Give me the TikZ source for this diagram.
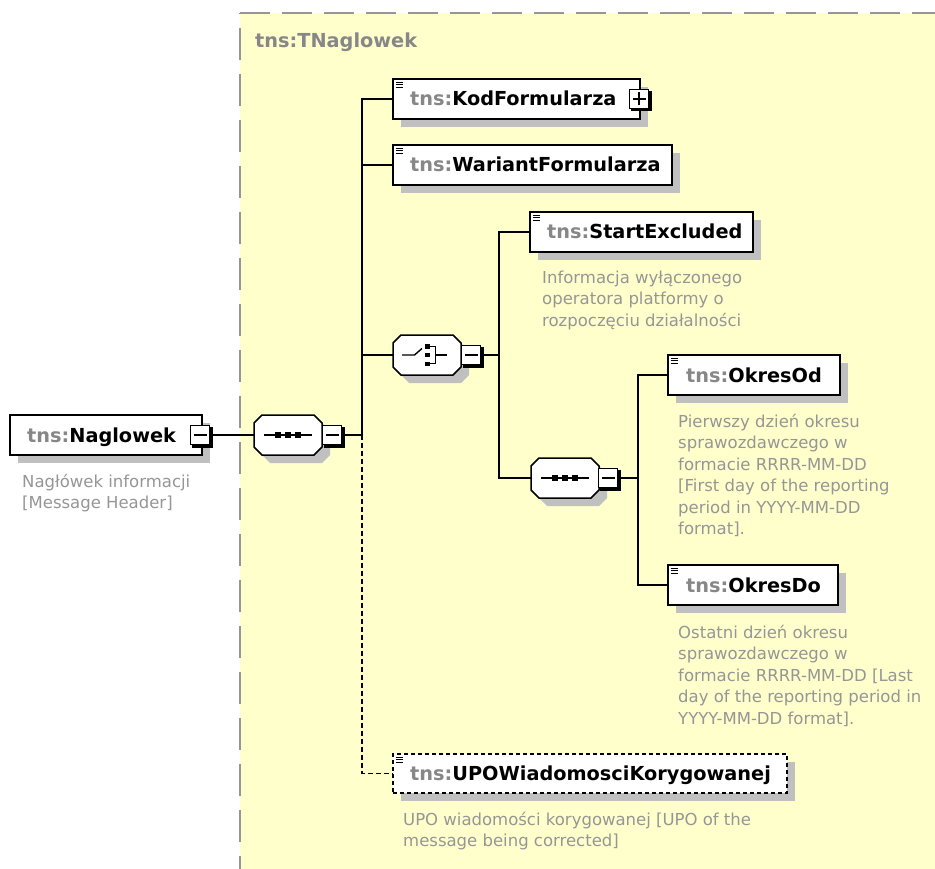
\documentclass[tikz,border=0pt]{standalone}
\usepackage{fontspec}
\setmainfont{DejaVu Sans}
\usetikzlibrary{calc}
\definecolor{frameyellow}{RGB}{255,255,204}
\definecolor{framegray}{RGB}{150,150,150}
\definecolor{shadowgray}{RGB}{192,192,192}
\definecolor{prefixgray}{RGB}{135,135,135}
\definecolor{descgray}{RGB}{150,150,150}
\tikzset{
  elembox/.style={rectangle, draw=black, line width=1.6pt, fill=white, inner sep=0pt, outer sep=0pt,
    anchor=north west, minimum height=40pt},
  elemshadow/.style={fill=shadowgray, shift={(8,8)}},
  optdash/.style={dash pattern=on 4pt off 3pt},
  compositor/.style={rectangle, draw=none, inner sep=0pt, outer sep=0pt,
    minimum width=68pt, minimum height=40pt},
  toggle/.style={rectangle, draw=black, line width=1.2pt, fill=white, inner sep=0pt, outer sep=0pt,
    minimum width=19pt, minimum height=19pt},
  nametext/.style={anchor=base west, inner sep=0pt, font=\fontsize{19.3}{23}\selectfont\bfseries},
  desctext/.style={anchor=north west, inner sep=0pt, align=left, text=descgray,
    font=\fontsize{16.5}{21.5}\selectfont},
  conn/.style={draw=black, line width=1.3pt},
  optconn/.style={conn, dash pattern=on 5pt off 3pt},
  elemicon/.pic={
    \draw[line width=0.9pt] (2.5,3) -- (9.5,3) (2.5,5.5) -- (9.5,5.5) (2.5,8) -- (9.5,8);
  },
  octagonpic/.pic={
    \fill[shadowgray, shift={(8,8)}] (-26,-20) -- (26,-20) -- (34,-12) -- (34,12) -- (26,20)
      -- (-26,20) -- (-34,12) -- (-34,-12) -- cycle;
    \filldraw[fill=white, draw=black, line width=1.5pt] (-26,-20) -- (26,-20) -- (34,-12) -- (34,12)
      -- (26,20) -- (-26,20) -- (-34,12) -- (-34,-12) -- cycle;
  },
  seqicon/.pic={
    \draw[line width=1.4pt] (-24,0) -- (24,0);
    \fill (-13,-3) rectangle (-7,3);
    \fill (-3,-3) rectangle (3,3);
    \fill (7,-3) rectangle (13,3);
  },
  choiceicon/.pic={
    \draw[line width=1.4pt] (-25,0) -- (-12.5,0) -- (-5,-6.5);
    \fill (-2,-11) rectangle (2.5,-6.5);
    \fill (-2,-2.25) rectangle (2.5,2.25);
    \fill (-2,6.5) rectangle (2.5,11);
    \draw[line width=1.4pt] (2.5,-8.75) -- (8.5,-8.75) -- (8.5,8.75) -- (2.5,8.75);
    \draw[line width=1.4pt] (8.5,0) -- (20,0);
  },
  togglepic/.pic={
    \fill[black] (-8,-8) rectangle (12.5,12.5);
  },
  minussign/.pic={\draw[line width=1.6pt] (-6.5,0) -- (6.5,0);},
  plussign/.pic={\draw[line width=1.6pt] (-6.5,0) -- (6.5,0) (0,-6.5) -- (0,6.5);},
}
\newcommand{\elemshadowof}[1]{\fill[elemshadow] (#1.north west) rectangle (#1.south east);}
\begin{document}
\begin{tikzpicture}[x=1pt,y=-1pt]
\useasboundingbox (0,0) rectangle (935,869);
\fill[white] (0,0) rectangle (935,869);
% complex type frame
\fill[frameyellow] (240,13) rectangle (960,900);
\draw[framegray, line width=2pt, dash pattern=on 30pt off 12pt] (240,13) -- (960,13);
\draw[framegray, line width=2pt, dash pattern=on 32pt off 14pt, dash phase=-15pt] (240,13) -- (240,900);
\node[nametext, text=prefixgray] (title) at (255,48) {tns:TNaglowek};

% ---------- shadows of element boxes ----------
\path (10,415) coordinate (nagnw) (202,455) coordinate (nagse);
\fill[elemshadow] (10,415) rectangle (202,455);
\fill[elemshadow] (393,79) rectangle (640,119);
\fill[elemshadow] (393,145) rectangle (672,185);
\fill[elemshadow] (530,212) rectangle (753,252);
\fill[elemshadow] (668,355) rectangle (840,395);
\fill[elemshadow] (668,565) rectangle (838,605);
\fill[elemshadow] (393,754) rectangle (787,793);

% root element
\node[elembox, minimum width=192pt] (nag) at (10,415) {};
\pic at (200,435) {togglepic};
\node[toggle] (nagmin) at (200,435) {};
\pic at (nagmin.center) {minussign};
\node[nametext] (nagtext) at (27,442) {\textcolor{prefixgray}{tns:}Naglowek};
\node[desctext] (nagdesc) at (22,473) {\rule{0pt}{14pt}Nagłówek informacji\\{}[Message Header]};

% sequence 1
\pic at (288,435) {octagonpic};
\node[compositor] (seq1) at (288,435) {};
\pic at (seq1.center) {seqicon};
\pic at (332,435) {togglepic};
\node[toggle] (seq1min) at (332,435) {};
\pic at (seq1min.center) {minussign};

% KodFormularza
\node[elembox, minimum width=247pt] (kod) at (393,79) {};
\pic at (kod.north west) {elemicon};
\pic at (639,99) {togglepic};
\node[toggle] (kodplus) at (639,99) {};
\pic at (kodplus.center) {plussign};
\node[nametext] (kodtext) at (410,106) {\textcolor{prefixgray}{tns:}KodFormularza};

% WariantFormularza
\node[elembox, minimum width=279pt] (war) at (393,145) {};
\pic at (war.north west) {elemicon};
\node[nametext] (wartext) at (410,172) {\textcolor{prefixgray}{tns:}WariantFormularza};

% choice
\pic at (427,355) {octagonpic};
\node[compositor] (choice) at (427,355) {};
\pic at (choice.center) {choiceicon};
\pic at (471,355) {togglepic};
\node[toggle] (choicemin) at (471,355) {};
\pic at (choicemin.center) {minussign};

% StartExcluded
\node[elembox, minimum width=223pt] (start) at (530,212) {};
\pic at (start.north west) {elemicon};
\node[nametext] (starttext) at (547,239) {\textcolor{prefixgray}{tns:}StartExcluded};
\node[desctext] (startdesc) at (542,269) {\rule{0pt}{14pt}Informacja wyłączonego\\operatora platformy o\\rozpoczęciu działalności};

% sequence 2
\pic at (565,478) {octagonpic};
\node[compositor] (seq2) at (565,478) {};
\pic at (seq2.center) {seqicon};
\pic at (608,478) {togglepic};
\node[toggle] (seq2min) at (608,478) {};
\pic at (seq2min.center) {minussign};

% OkresOd
\node[elembox, minimum width=172pt] (od) at (668,355) {};
\pic at (od.north west) {elemicon};
\node[nametext] (odtext) at (686,382) {\textcolor{prefixgray}{tns:}OkresOd};
\node[desctext] (oddesc) at (678,413) {\rule{0pt}{14pt}Pierwszy dzień okresu\\sprawozdawczego w\\formacie RRRR-MM-DD\\{}[First day of the reporting\\period in YYYY-MM-DD\\format].};

% OkresDo
\node[elembox, minimum width=170pt] (do) at (668,565) {};
\pic at (do.north west) {elemicon};
\node[nametext] (dotext) at (686,592) {\textcolor{prefixgray}{tns:}OkresDo};
\node[desctext] (dodesc) at (678,624) {\rule{0pt}{14pt}Ostatni dzień okresu\\sprawozdawczego w\\formacie RRRR-MM-DD [Last\\day of the reporting period in\\YYYY-MM-DD format].};

% UPOWiadomosciKorygowanej (optional)
\node[elembox, optdash, minimum width=394pt, minimum height=39pt] (upo) at (393,754) {};
\pic at (upo.north west) {elemicon};
\node[nametext] (upotext) at (410,780) {\textcolor{prefixgray}{tns:}UPOWiadomosciKorygowanej};
\node[desctext] (upodesc) at (403,811) {\rule{0pt}{14pt}UPO wiadomości korygowanej [UPO of the\\message being corrected]};

% connectors
\coordinate (sp1) at (362,435);
\coordinate (sp2) at (499,355);
\coordinate (sp3) at (638,478);
\draw[conn] (nagmin.east) -- (seq1.west);
\draw[conn] (seq1min.east) -- (sp1);
\draw[conn] (kod.west) -| (sp1);
\draw[conn] (war.west) -- (war.west -| sp1);
\draw[conn] (choice.west) -- (choice.west -| sp1);
\draw[optconn] (sp1) |- (upo.west);
\draw[conn] (choicemin.east) -- (sp2);
\draw[conn] (start.west) -| (sp2) |- (seq2.west);
\draw[conn] (seq2min.east) -- (sp3);
\draw[conn] (od.west) -| (sp3) |- (do.west);
\end{tikzpicture}
\end{document}
